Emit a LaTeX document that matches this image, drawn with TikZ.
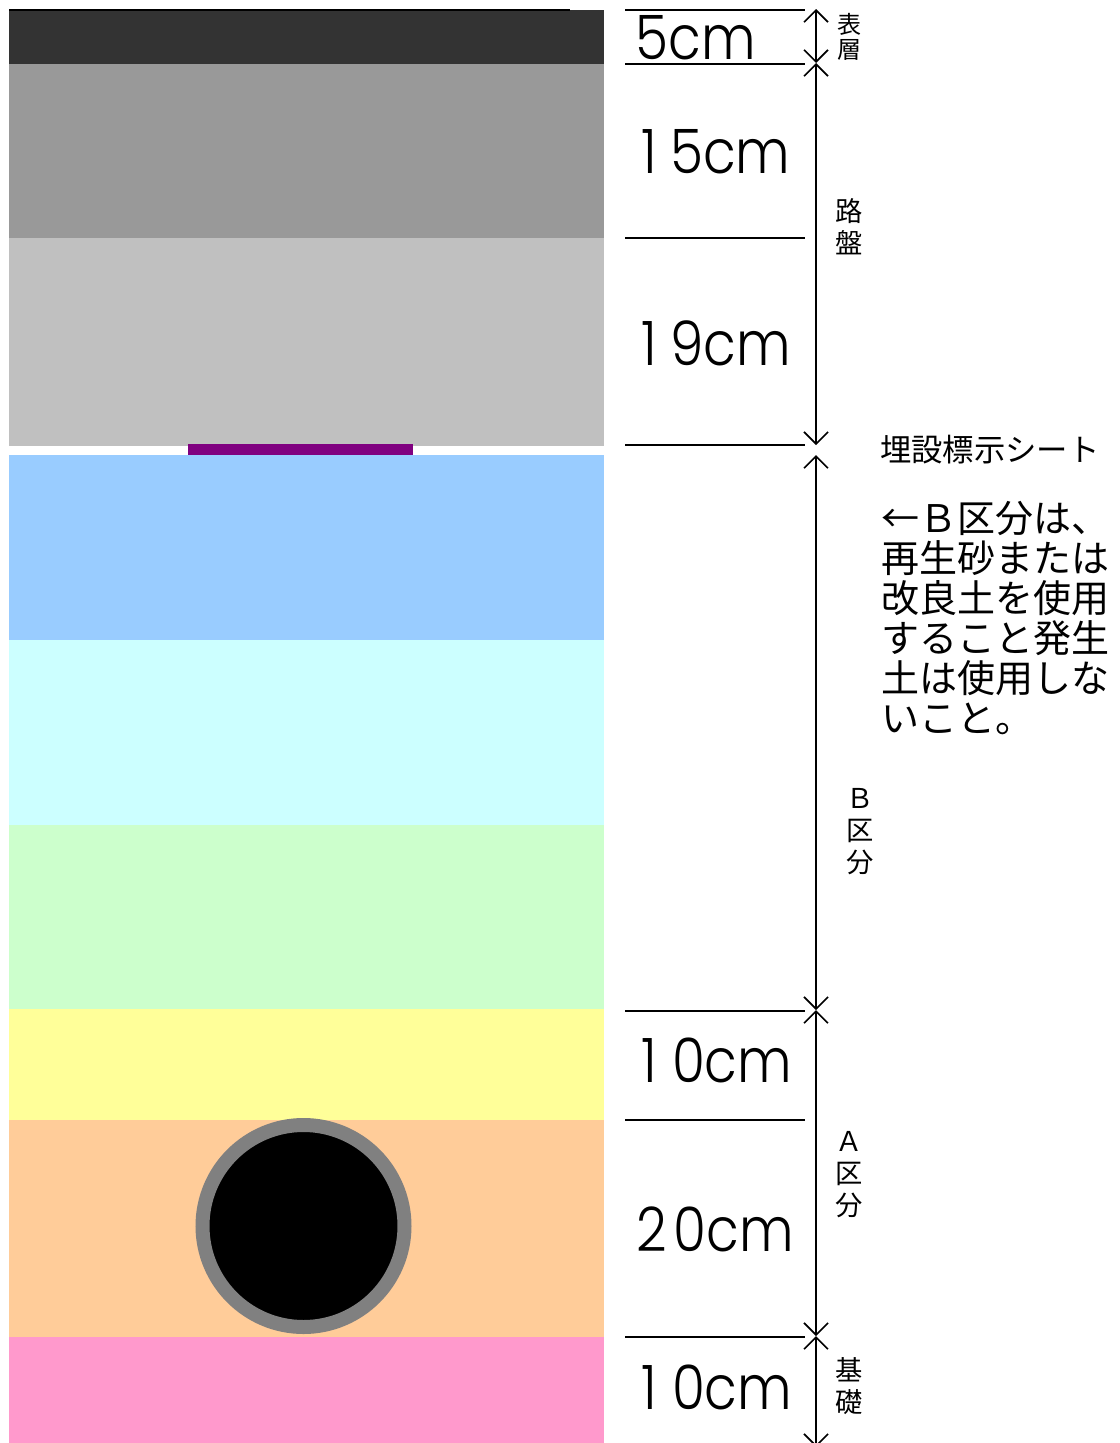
\documentclass[tikz,border=0pt]{standalone}
\usepackage{fontspec}
\usepackage{xcolor}
\usetikzlibrary{arrows.meta}
\setmainfont{Noto Sans CJK JP}
\newfontfamily\numfont[FakeStretch=0.87,UprightFont=* Light]{Poppins}

\definecolor{surfacegray}{HTML}{333333}
\definecolor{basegray}{HTML}{999999}
\definecolor{subgray}{HTML}{C0C0C0}
\definecolor{sheetpurple}{HTML}{800080}
\definecolor{sandblue}{HTML}{99CCFF}
\definecolor{sandcyan}{HTML}{CCFFFF}
\definecolor{sandgreen}{HTML}{CCFFCC}
\definecolor{sandyellow}{HTML}{FFFF99}
\definecolor{sandorange}{HTML}{FFCC99}
\definecolor{footpink}{HTML}{FF99CC}

\begin{document}
\begin{tikzpicture}[
    x=0.75pt, y=-0.75pt,
    layer/.style={
        rectangle, anchor=north west,
        inner sep=0pt, outer sep=0pt,
        minimum width=446.25pt
    },
    depth/.style={font=\numfont\fontsize{46}{46}\selectfont, inner sep=0pt},
    side/.style={font=\fontsize{20.5}{24}\selectfont, align=center, inner sep=0pt},
    rule/.style={line width=1.5pt},
    arrow/.style={line width=1.5pt, {Straight Barb[length=9pt,width=18pt,line width=1.2pt]}-{Straight Barb[length=9pt,width=18pt,line width=1.2pt]}}
]
\useasboundingbox (0,0) rectangle (1120,1443);

% --- layers ---
\node[layer, fill=surfacegray, minimum height=40.5pt] (surface) at (9,10) {};
\node[layer, fill=basegray, minimum height=130.5pt] (upper) at (9,64) {};
\node[layer, fill=subgray, minimum height=156pt] (lower) at (9,238) {};
\node[layer, fill=sandblue, minimum height=138.75pt] (bone) at (9,455) {};
\node[layer, fill=sandcyan, minimum height=138.75pt] (btwo) at (9,640) {};
\node[layer, fill=sandgreen, minimum height=138pt] (bthree) at (9,825) {};
\node[layer, fill=sandyellow, minimum height=83.25pt] (aone) at (9,1009) {};
\node[layer, fill=sandorange, minimum height=162.75pt] (atwo) at (9,1120) {};
\node[layer, fill=footpink, minimum height=79.5pt] (foot) at (9,1337) {};

% --- sheet and pipe ---
\node[layer, fill=sheetpurple, minimum width=168.75pt, minimum height=8.25pt] (sheet) at (188,444) {};
\node[circle, fill=black, draw=gray, line width=10.5pt, minimum size=151.5pt, inner sep=0pt] (pipe) at (303.5,1226) {};

% --- end points of the rules and arrows ---
\coordinate (top) at (816,9);
\coordinate (cross1) at (816,63);
\coordinate (sheettop) at (816,445);
\coordinate (sheetbot) at (816,455);
\coordinate (cross2) at (816,1010);
\coordinate (cross3) at (816,1336);
\coordinate (bottom) at (816,1447);
\coordinate (rule1a) at (625,10);
\coordinate (rule1b) at (805,10);
\coordinate (rule2a) at (625,64);
\coordinate (rule2b) at (805,64);
\coordinate (rule3a) at (625,238);
\coordinate (rule3b) at (805,238);
\coordinate (rule4a) at (625,445);
\coordinate (rule4b) at (805,445);
\coordinate (rule5a) at (625,1011);
\coordinate (rule5b) at (805,1011);
\coordinate (rule6a) at (625,1120);
\coordinate (rule6b) at (805,1120);
\coordinate (rule7a) at (625,1337);
\coordinate (rule7b) at (805,1337);
\coordinate (edgea) at (9,10);
\coordinate (edgeb) at (570,10);

% --- rules ---
\draw[line width=1pt] (edgea) -- (edgeb);
\draw[rule] (rule1a) -- (rule1b);
\draw[rule] (rule2a) -- (rule2b);
\draw[rule] (rule3a) -- (rule3b);
\draw[rule] (rule4a) -- (rule4b);
\draw[rule] (rule5a) -- (rule5b);
\draw[rule] (rule6a) -- (rule6b);
\draw[rule] (rule7a) -- (rule7b);

% --- arrows ---
\draw[arrow] (top) -- (cross1);
\draw[arrow] (cross1) -- (sheettop);
\draw[arrow] (sheetbot) -- (cross2);
\draw[arrow] (cross2) -- (cross3);
\draw[arrow] (cross3) -- (bottom);

% --- depths ---
\node[depth] (d5) at (696,38) {5cm};
\node[depth] (d15) at (716,152) {1\kern10pt 5cm};
\node[depth] (d19) at (716,343) {1\kern10pt 9cm};
\node[depth] (d10a) at (717,1060) {1\kern11pt 0cm};
\node[depth] (d20) at (715,1229) {2\kern5pt 0cm};
\node[depth] (d10b) at (717,1387) {1\kern11pt 0cm};

% --- side labels ---
\node[side, font=\fontsize{18}{19}\selectfont] (lblsurface) at (849,37) {表\\層};
\node[side] (lblbase) at (849,227) {路\\盤};
\node[side] (lblb) at (860,832) {Ｂ\\区\\分};
\node[side] (lbla) at (849,1175) {Ａ\\区\\分};
\node[side] (lblfoot) at (849,1386) {基\\礎};

\node[anchor=west, inner sep=0pt, font=\fontsize{23.5}{24}\selectfont] (lblsheet) at (880,450) {埋設標示シート};
\node[anchor=north west, inner sep=0pt, align=left, font=\fontsize{28.5}{30}\selectfont] (note) at (881,501)
    {←Ｂ区分は、\\再生砂または\\改良土を使用\\すること発生\\土は使用しな\\いこと。};

\end{tikzpicture}
\end{document}
